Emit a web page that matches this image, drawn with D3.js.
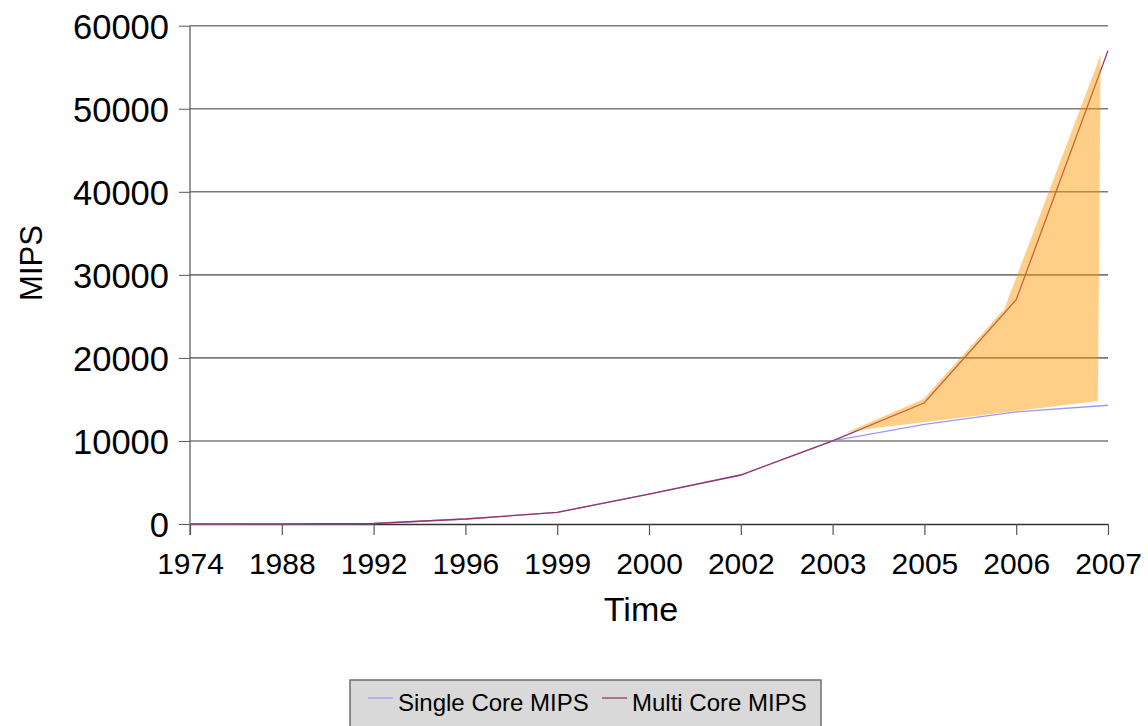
<!DOCTYPE html>
<html>
<head>
<meta charset="utf-8">
<script src="https://cdn.jsdelivr.net/npm/d3@7"></script>
<style>
    html, body { margin: 0; padding: 0; background: #fff; }
    svg { display: block; font-family: "Liberation Sans", Arial, Helvetica, sans-serif; }
</style>
</head>
<body>
<div id="chart"></div>
<script>
// 数据
let years = ['1974', '1988', '1992', '1996', '1999', '2000', '2002', '2003', '2005', '2006', '2007'];
let singleCore = [0, 8, 60, 600, 1400, 3600, 5900, 10000, 12000, 13500, 14300];
let multiCore = [0, 8, 60, 600, 1400, 3600, 5900, 10000, 14600, 27000, 57000];
let yTicks = [0, 10000, 20000, 30000, 40000, 50000, 60000];
// 手绘的高亮区域（类目下标, 数值）
let shadePos = [7.14, 7.99, 8.87, 9.92, 9.89, 7.30];
let shadeVal = [10960, 15050, 25890, 56470, 14810, 11320];

let W = 1148, H = 726;
let pLeft = 190, pRight = 1108, pTop = 25.7, pBottom = 524;

let svg = d3.select('#chart').append('svg')
    .attr('width', W)
    .attr('height', H);

//比例尺
let xScale = d3.scalePoint().domain(years).range([pLeft, pRight]);
let xIdx = d3.scaleLinear().domain([0, years.length - 1]).range([pLeft, pRight]);
let yScale = d3.scaleLinear().domain([0, 60000]).range([pBottom, pTop]);

//网格线
svg.append('g').selectAll('line')
    .data(yTicks.filter(function (d) { return d > 0; }))
    .enter()
    .append('line')
    .attr('x1', pLeft)
    .attr('x2', pRight)
    .attr('y1', function (d) { return yScale(d); })
    .attr('y2', function (d) { return yScale(d); })
    .attr('stroke', '#7a7a7a')
    .attr('stroke-width', 1.6);

//y轴
let yAxis = svg.append('g')
    .attr('transform', 'translate(' + pLeft + ',0)')
    .call(d3.axisLeft(yScale).tickValues(yTicks).tickFormat(d3.format('d'))
        .tickSize(11).tickSizeOuter(0).tickPadding(10));
yAxis.select('.domain').remove();
yAxis.selectAll('.tick line').attr('stroke', '#555');
yAxis.selectAll('text')
    .attr('font-size', 34.5)
    .attr('dy', '0.36em')
    .attr('fill', '#000');
svg.append('line')
    .attr('x1', pLeft).attr('x2', pLeft)
    .attr('y1', pTop).attr('y2', pBottom + 11)
    .attr('stroke', '#555')
    .attr('stroke-width', 1.2);

//x轴
let xAxis = svg.append('g')
    .attr('transform', 'translate(0,' + pBottom + ')')
    .call(d3.axisBottom(xScale).tickSize(11).tickSizeOuter(0).tickPadding(18));
xAxis.select('.domain').attr('stroke', '#333').attr('stroke-width', 1.4);
xAxis.selectAll('.tick line').attr('stroke', '#555').attr('stroke-width', 1.2);
xAxis.selectAll('text')
    .attr('font-size', 30)
    .attr('fill', '#000');

//坐标轴标题
svg.append('text')
    .attr('transform', 'translate(42,263) rotate(-90)')
    .attr('text-anchor', 'middle')
    .attr('font-size', 31)
    .text('MIPS');
svg.append('text')
    .attr('x', 641)
    .attr('y', 621)
    .attr('text-anchor', 'middle')
    .attr('font-size', 34)
    .text('Time');

//折线
let line = d3.line()
    .x(function (d, i) { return xScale(years[i]); })
    .y(function (d) { return yScale(d); });

svg.append('path')
    .datum(singleCore)
    .attr('d', line)
    .attr('fill', 'none')
    .attr('stroke', '#9999ff')
    .attr('stroke-width', 1.3);
svg.append('path')
    .datum(multiCore)
    .attr('d', line)
    .attr('fill', 'none')
    .attr('stroke', '#993366')
    .attr('stroke-width', 1.3);

//高亮区域
let shadePts = shadePos.map(function (p, i) {
    return [xIdx(p), yScale(shadeVal[i])];
});
svg.append('path')
    .datum(shadePts)
    .attr('d', d3.line().curve(d3.curveLinearClosed))
    .attr('fill', '#ff9900')
    .attr('fill-opacity', 0.47)
    .attr('stroke', 'none');

//图例
let legend = svg.append('g');
legend.append('rect')
    .attr('x', 350)
    .attr('y', 680)
    .attr('width', 471)
    .attr('height', 60)
    .attr('fill', '#d9d9d9')
    .attr('stroke', '#6e6e6e')
    .attr('stroke-width', 1.5);
let items = [
    {name: 'Single Core MIPS', color: '#9999ff', x: 368},
    {name: 'Multi Core MIPS', color: '#993366', x: 602}
];
let li = legend.selectAll('g.item')
    .data(items)
    .enter()
    .append('g')
    .attr('class', 'item');
li.append('line')
    .attr('x1', function (d) { return d.x; })
    .attr('x2', function (d) { return d.x + 25; })
    .attr('y1', 698)
    .attr('y2', 698)
    .attr('stroke', function (d) { return d.color; })
    .attr('stroke-width', 1.3);
li.append('text')
    .attr('x', function (d) { return d.x + 30; })
    .attr('y', 711)
    .attr('font-size', 24)
    .attr('fill', '#000')
    .text(function (d) { return d.name; });
</script>
</body>
</html>
